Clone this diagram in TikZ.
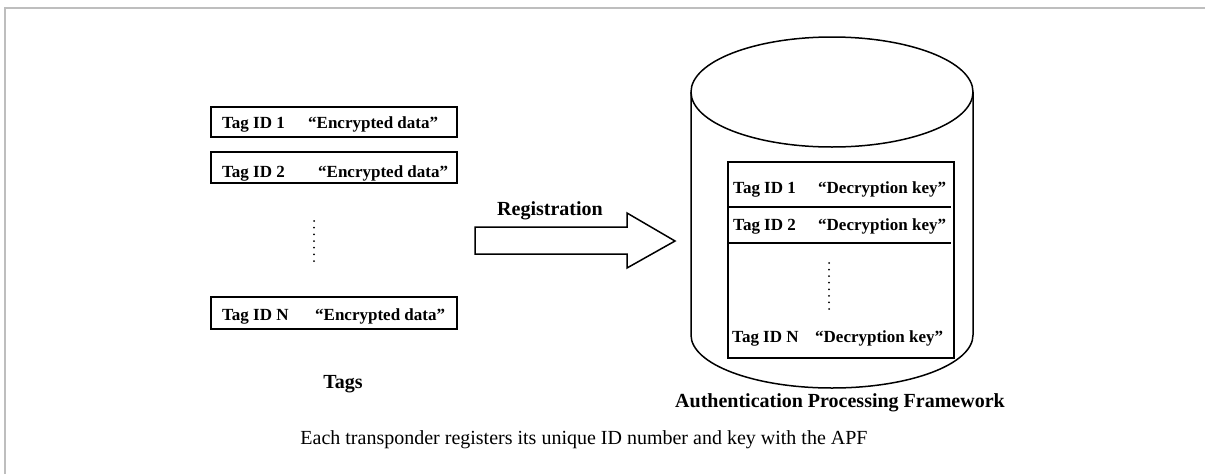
\documentclass[tikz,border=0pt]{standalone}
\usepackage{fontspec}
\setmainfont{Liberation Serif}
\begin{document}
\begin{tikzpicture}[x=1pt,y=-1pt,
  tagbox/.style={draw=black,line width=2pt},
  entry/.style={inner sep=0pt,anchor=base west,font=\fontsize{17}{20}\selectfont\bfseries},
  label/.style={inner sep=0pt,anchor=base,font=\fontsize{20}{24}\selectfont\bfseries},
  dotmark/.style={fill=black,inner sep=0pt,minimum size=2pt,circle},
  outline/.style={draw=black,line width=1.5pt}]
\useasboundingbox (0,0) rectangle (1205,474);
% page frame
\draw[line width=2pt,color={rgb,255:red,190;green,190;blue,190}] (5,474) -- (5,8) -- (1205,8);

% tag records
\draw[tagbox] (211,107) rectangle (457,137);
\draw[tagbox] (211,152) rectangle (457,183);
\draw[tagbox] (211,297) rectangle (457,329);
\node[entry] (t1id) at (222,128) {Tag ID 1};
\node[entry] (t1d) at (308,128) {“Encrypted data”};
\node[entry] (t2id) at (222,177) {Tag ID 2};
\node[entry] (t2d) at (318,177) {“Encrypted data”};
\node[entry] (tnid) at (222,320) {Tag ID N};
\node[entry] (tnd) at (315,320) {“Encrypted data”};
\foreach \k in {0,...,6} \node[dotmark] at (314,{221+6.67*\k}) {};
\node[label] (tags) at (343,388) {Tags};

% registration arrow
\node[label] (reg) at (550,215) {Registration};
\draw[outline,line join=miter] (475,227) -- (627,227) -- (627,213) -- (675,241)
  -- (627,268) -- (627,254) -- (475,254) -- cycle;

% database cylinder
\draw[outline] (832,92) ellipse [x radius=141pt, y radius=55pt];
\draw[outline] (691,92) -- (691,335) arc [start angle=180, end angle=360, x radius=141pt, y radius=53pt] -- (973,92);

% key table inside the database
\draw[tagbox] (728,162) rectangle (954,358);
\draw[line width=2pt] (728,207) -- (951,207);
\draw[line width=2pt] (728,243) -- (951,243);
\node[entry] (k1id) at (733,193) {Tag ID 1};
\node[entry] (k1d) at (818,193) {“Decryption key”};
\node[entry] (k2id) at (733,230) {Tag ID 2};
\node[entry] (k2d) at (818,230) {“Decryption key”};
\node[entry] (knid) at (732,342) {Tag ID N};
\node[entry] (knd) at (815,342) {“Decryption key”};
\foreach \k in {0,...,7} \node[dotmark] at (829,{263+6.57*\k}) {};

\node[label] (apf) at (840,407) {Authentication Processing Framework};
\node[inner sep=0pt,anchor=base,font=\fontsize{20}{24}\selectfont] (cap) at (584,444)
  {Each transponder registers its unique ID number and key with the APF};
\end{tikzpicture}
\end{document}
